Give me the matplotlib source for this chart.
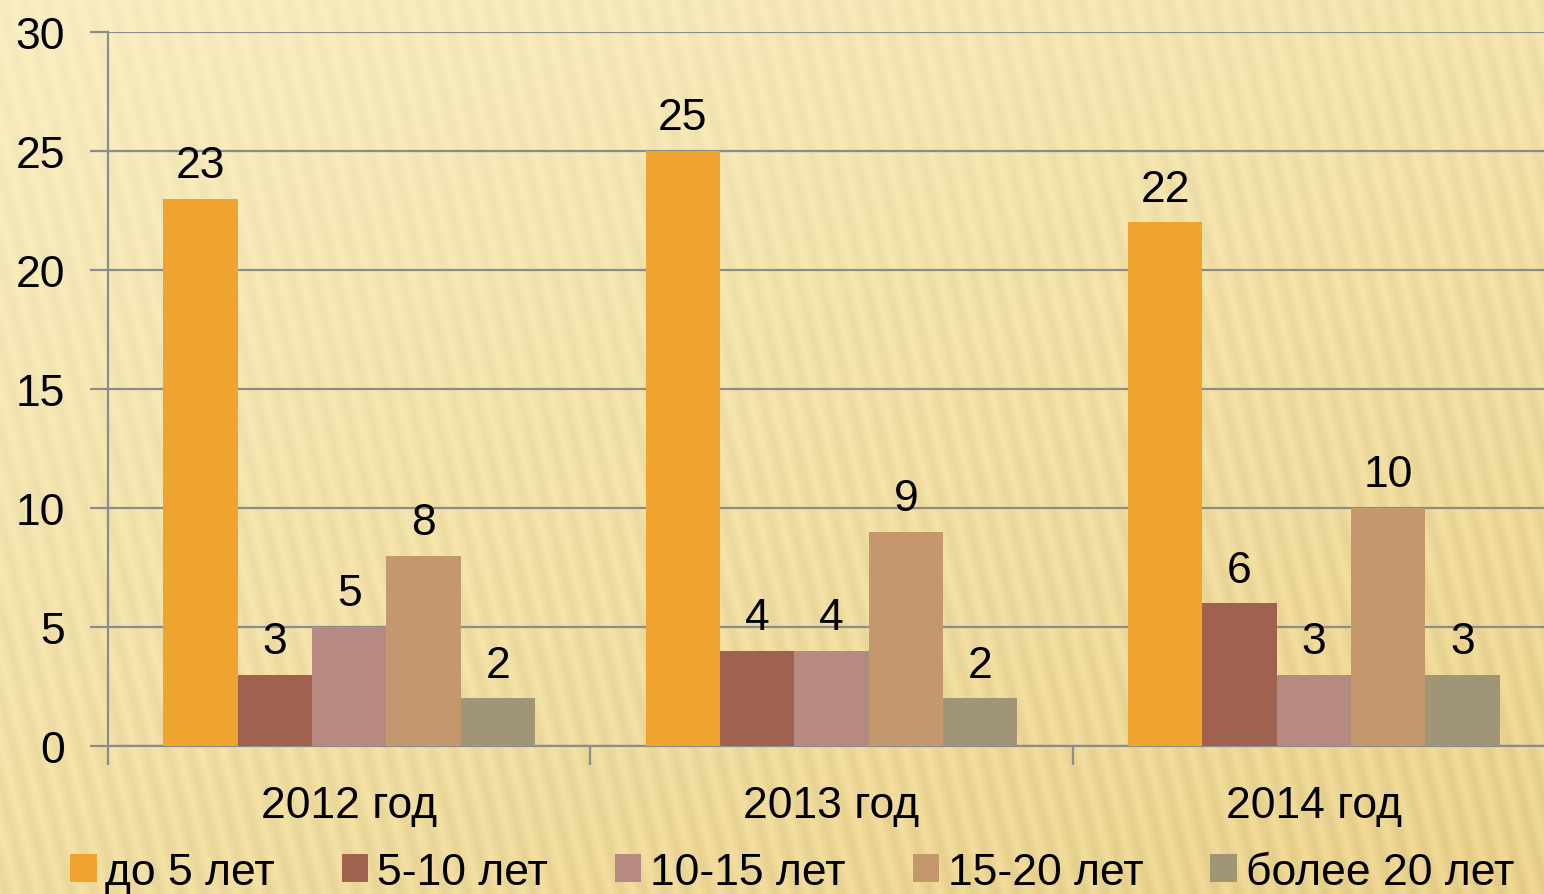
import numpy as np
import matplotlib
matplotlib.use('Agg')
import matplotlib.pyplot as plt

plt.rcParams['font.family'] = ['Liberation Sans', 'DejaVu Sans']

# data
years = ['2012 год', '2013 год', '2014 год']
series_names = ['до 5 лет', '5-10 лет', '10-15 лет', '15-20 лет', 'более 20 лет']
values = [
    [23, 25, 22],   # до 5 лет
    [3, 4, 6],      # 5-10 лет
    [5, 4, 3],      # 10-15 лет
    [8, 9, 10],     # 15-20 лет
    [2, 2, 3],      # более 20 лет
]
colors = ['#F0A430', '#A0624E', '#B68A80', '#C4976C', '#A09677']

FS = 32

fig = plt.figure(figsize=(15.44, 8.95), dpi=100)

# background: pale gradient with soft diagonal stripes
bg = fig.add_axes([0, 0, 1, 1], zorder=-10)
h, w = 895, 1544
yy, xx = np.mgrid[0:h, 0:w]
t = (yy / h) * 0.6 + (xx / w) * 0.4
stripes = 0.5 + 0.5 * np.sin((xx + 0.25 * (h - yy)) * 2 * np.pi / 22)
top = np.array([251, 240, 196]) / 255
bot = np.array([240, 216, 146]) / 255
img = top[None, None, :] * (1 - t[..., None]) + bot[None, None, :] * t[..., None]
img = img - stripes[..., None] * (0.02 + 0.03 * t[..., None])
bg.imshow(np.clip(img, 0, 1), aspect='auto', extent=[0, 1, 0, 1])
bg.axis('off')

ax = fig.add_axes([108 / 1544, 148 / 895, (1555 - 108) / 1544, 714 / 895])
ax.patch.set_alpha(0)

n = len(series_names)
bw = 0.77 / n
x = np.arange(len(years))
for i, (name, vals) in enumerate(zip(series_names, values)):
    pos = x - 0.385 + bw * (i + 0.5)
    bars = ax.bar(pos, vals, width=bw, color=colors[i], label=name, zorder=3)
    ax.bar_label(bars, padding=9, fontsize=FS)

ax.set_xlim(-0.5, 2.5)
ax.set_ylim(0, 30)
ax.set_yticks(range(0, 31, 5))
ax.grid(axis='y', color='#8C8C8C', linewidth=1.6, zorder=0)
ax.set_axisbelow(True)

for s in ['top', 'right']:
    ax.spines[s].set_visible(False)
for s in ['left', 'bottom']:
    ax.spines[s].set_color('#8C8C8C')
    ax.spines[s].set_linewidth(1.6)

ax.tick_params(axis='y', length=13, width=1.6, color='#8C8C8C', labelsize=FS, pad=18)
ax.set_xticks(x)
ax.set_xticklabels(years)
ax.set_xticks([-0.5, 0.5, 1.5, 2.5], minor=True)
ax.tick_params(axis='x', which='major', length=0, labelsize=FS, pad=28)
ax.tick_params(axis='x', which='minor', length=14, width=1.6, color='#8C8C8C')

fig.legend(loc='center', bbox_to_anchor=(0.513, 0.024), ncol=5, frameon=False,
           fontsize=FS, handlelength=0.6, handleheight=0.6, handletextpad=0.2,
           columnspacing=1.5, borderpad=0)

fig.savefig('out.png', dpi=100)
